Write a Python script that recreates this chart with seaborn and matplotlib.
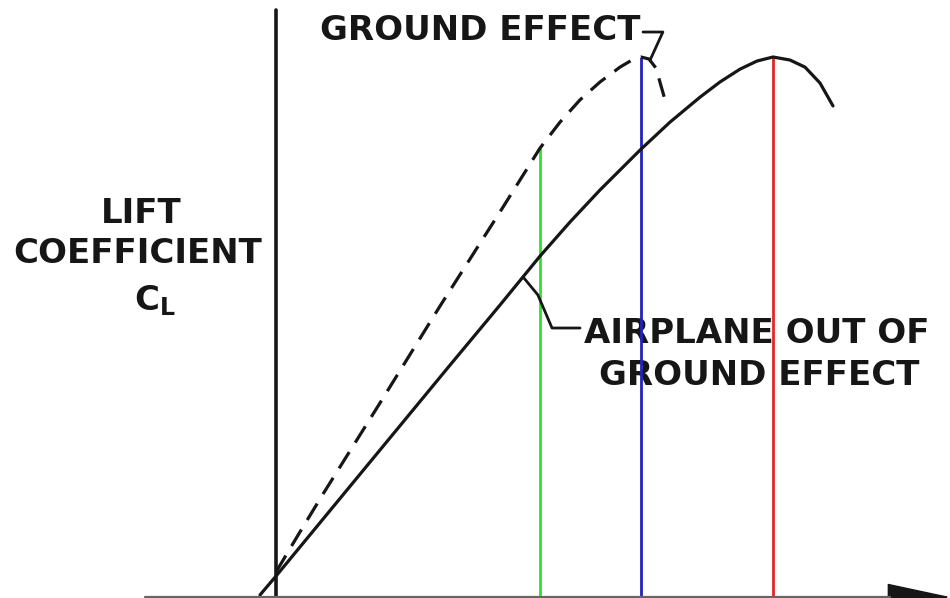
import numpy as np
import pandas as pd
import matplotlib.pyplot as plt
import seaborn as sns

# angle of attack (deg) vs lift coefficient, airplane out of ground effect (solid)
alpha_out = [-0.645, 0.0, 3.266, 7.016, 9.032, 10.645, 11.855, 13.065, 14.677,
             15.887, 17.097, 17.903, 18.710, 19.395, 20.040, 20.726, 21.331,
             21.935, 22.460]
cl_out = [0.006, 0.062, 0.353, 0.687, 0.865, 1.010, 1.111, 1.206, 1.324,
          1.407, 1.481, 1.526, 1.564, 1.588, 1.600, 1.591, 1.570,
          1.523, 1.455]

# in ground effect (dashed)
alpha_in = [0.0, 0.968, 1.895, 4.194, 6.613, 9.032, 10.645, 11.452, 12.258,
            13.065, 13.871, 14.355, 14.718, 15.04, 15.323, 15.685]
cl_in = [0.074, 0.193, 0.305, 0.575, 0.862, 1.141, 1.330, 1.407, 1.473,
         1.526, 1.570, 1.591, 1.600, 1.594, 1.567, 1.473]

# coloured reference lines: angle, curve they run up to, colour
marker_alpha = [10.645, 14.718, 20.040]
marker_curve = ['in', 'in', 'out']
marker_colors = ['#2fe02f', '#2323b5', '#e02828']

df_out = pd.DataFrame({'alpha': alpha_out, 'cl': cl_out})
df_in = pd.DataFrame({'alpha': alpha_in, 'cl': cl_in})
curves = {'in': df_in, 'out': df_out}

sns.set_theme(style='white')
plt.rcParams['font.family'] = ['DejaVu Sans']

fig = plt.figure(figsize=(9.5, 5.98), dpi=100)
ax = fig.add_axes([0, 0, 1, 1])
ax.set_axis_off()

# 24.8 px per degree, 337.5 px per unit CL, origin at pixel (276, 597)
ax.set_xlim(-276 / 24.8, (950 - 276) / 24.8)
ax.set_ylim(-1 / 337.5, 597 / 337.5)

ink = '#161616'

# curves
sns.lineplot(data=df_out, x='alpha', y='cl', sort=False, estimator=None,
             color=ink, lw=2.3, ax=ax, zorder=5)
sns.lineplot(data=df_in, x='alpha', y='cl', sort=False, estimator=None,
             color=ink, lw=2.3, ax=ax, zorder=5, linestyle=(0, (6, 3.5)))

# vertical coloured lines up to the curve (drawn over the lettering)
y_bottom = ax.get_ylim()[0]
for a, which, col in zip(marker_alpha, marker_curve, marker_colors):
    d = curves[which]
    top = np.interp(a, d['alpha'], d['cl'])
    ax.vlines(a, y_bottom, top, color=col, lw=2, zorder=4)

# axes: vertical line and horizontal arrow
ax.axvline(0, ymin=0, ymax=1 - 10 / 598, color=ink, lw=2.6, zorder=6)
ax.axhline(0, xmin=145 / 950, xmax=890 / 950, color='#666666', lw=1.6, zorder=6)
ax.annotate('', xy=(1.0, 0), xycoords=ax.get_yaxis_transform(),
            xytext=(885 / 950, 0), textcoords=ax.get_yaxis_transform(),
            arrowprops=dict(arrowstyle='-|>,head_length=2.1,head_width=0.45',
                            mutation_scale=20, color=ink, lw=1,
                            shrinkA=0, shrinkB=0))

# labels
fs = 24.5
tkw = dict(fontsize=fs, fontweight='bold', color=ink, transform=ax.transAxes, zorder=1)
ax.text(141 / 950, 1 - 223 / 598, 'LIFT', ha='center', va='baseline', **tkw)
ax.text(138 / 950, 1 - 263 / 598, 'COEFFICIENT', ha='center', va='baseline', **tkw)
ax.text(155 / 950, 1 - 310 / 598, r'$\mathbf{C}_{\mathbf{L}}$', ha='center',
        va='baseline', **tkw)

ax.text(320 / 950, 1 - 40 / 598, 'GROUND EFFECT', ha='left', va='baseline', **tkw)
ax.text(757 / 950, 1 - 343 / 598, 'AIRPLANE OUT OF', ha='center', va='baseline', **tkw)
ax.text(759 / 950, 1 - 385 / 598, 'GROUND EFFECT', ha='center', va='baseline', **tkw)

# leader lines
a_ge = 15.08
ge_anchor = np.interp(a_ge, alpha_in, cl_in)
ax.plot([14.80, 15.60, a_ge], [1.674, 1.674, ge_anchor], color=ink, lw=2, zorder=5)

a_ao = 9.96
ao_anchor = np.interp(a_ao, alpha_out, cl_out)
ax.plot([a_ao, 10.56, 11.13, 12.26], [ao_anchor, 0.895, 0.797, 0.797],
        color=ink, lw=2, zorder=5)

fig.savefig('out.png', dpi=100)
